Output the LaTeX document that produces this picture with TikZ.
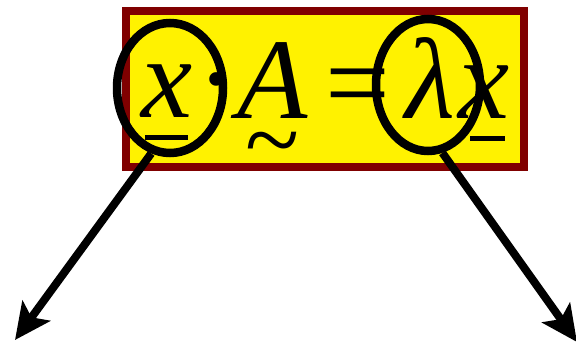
\documentclass[tikz,border=0pt]{standalone}
\usepackage{fontspec}
\setmainfont{Liberation Serif}
\usetikzlibrary{arrows.meta, shapes.geometric}
\definecolor{framered}{HTML}{800000}

\begin{document}
\begin{tikzpicture}[
          x=1pt, y=-1pt,
          glyph/.style={anchor=base, inner sep=0pt, font=\fontsize{115}{115}\selectfont\itshape},
          ring/.style={ellipse, draw, line width=8.5pt, inner sep=0pt, minimum width=106pt, minimum height=130pt},
          arrow/.style={-{Stealth[length=36pt,width=34pt,inset=8pt]}, line width=8pt},
          bar/.style={line width=5pt}
        ]
          \useasboundingbox (0,0) rectangle (576,343);

          % Yellow box
          \draw[fill=yellow, draw=framered, line width=8pt] (126,11) rectangle (524,167);

          % Equation
          \node[glyph] (xleft) at (167,117) {x};
          \node[glyph] (dot) at (215,117) {·};
          \node[glyph] (matA) at (273,118) {A};
          \node[inner sep=0pt, font=\fontsize{100}{100}\selectfont] (tilde) at (273,153) {\textasciitilde};
          \node[glyph, font=\fontsize{115}{115}\selectfont] (equals) at (358,121) {=};
          \node[glyph] (lambda) at (430,118) {λ};
          \node[glyph] (xright) at (484,118) {x};
          \draw[bar] (145,137) -- (188,137);
          \draw[bar] (470,138) -- (505,138);

          % Rings
          \node[ring] (ringx) at (170,88) {};
          \node[ring, minimum width=104pt, minimum height=132pt] (ringlambda) at (428,85) {};

          % Arrows
          \coordinate (leftend) at (15,340);
          \coordinate (rightend) at (577,342);
          \draw[arrow] (ringx.254) -- (leftend);
          \draw[arrow] (ringlambda.282) -- (rightend);
        \end{tikzpicture}
\end{document}
